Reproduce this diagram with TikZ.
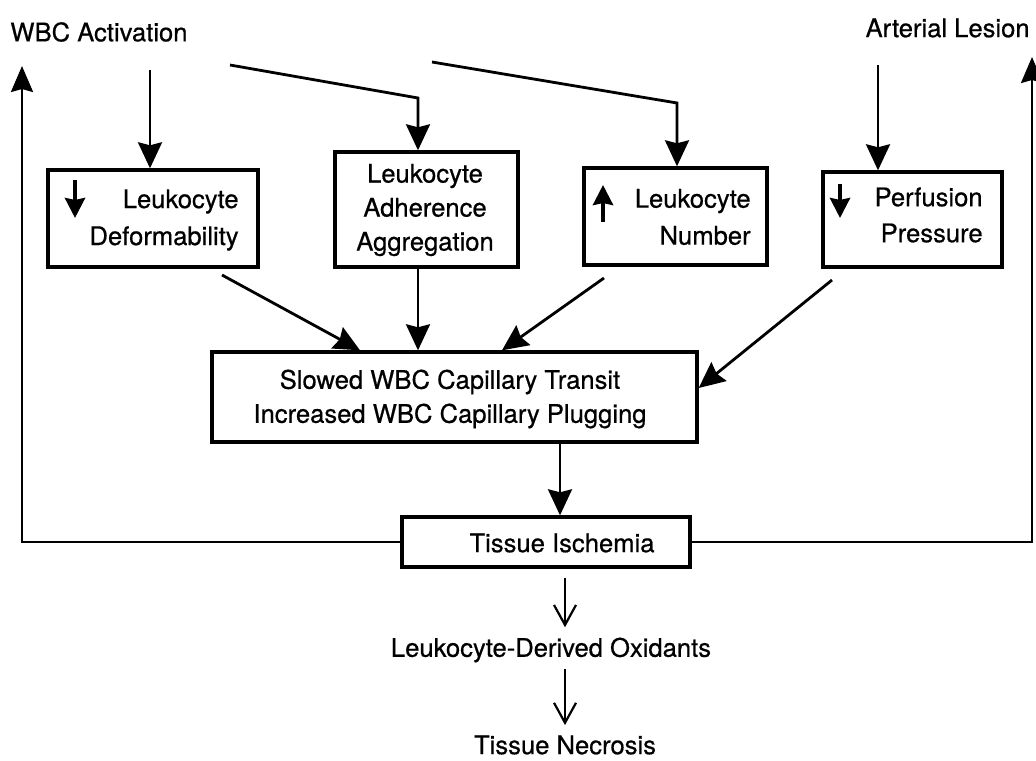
\documentclass[tikz,border=0pt]{standalone}
\usepackage{fontspec}
\setmainfont{TeX Gyre Heros}[FakeBold=0.6]
\usetikzlibrary{arrows.meta,calc}
\newlength{\du}
\setlength{\du}{0.5pt}
\tikzset{
  boxline/.style={draw, line width=1.7pt, inner sep=0pt},
  figtext/.style={inner sep=0pt, font=\fontsize{12.8}{17}\selectfont},
  flow/.style={line width=1.4pt, -{Stealth[length=13pt,width=12pt,inset=1.5pt]}},
  feedback/.style={line width=1.3pt, -{Stealth[length=13pt,width=11pt,inset=1.5pt]}},
  openflow/.style={line width=1.1pt, -{Straight Barb[length=10pt,width=11pt]}},
  glyph/.style={line width=2pt, -{Stealth[length=10pt,width=10pt,inset=1pt]}},
}

\begin{document}
\begin{tikzpicture}
\pgftransformxscale{1.000000}
\pgftransformyscale{-1.000000}
\useasboundingbox (0\du,0\du) rectangle (1036\du,760\du);
% boxes
\node[boxline, minimum width=210\du, minimum height=97\du] (deform) at (153\du,218.5\du) {};
\node[boxline, minimum width=183\du, minimum height=115\du] (adher) at (426.5\du,209.5\du) {};
\node[boxline, minimum width=183\du, minimum height=97\du] (number) at (675.5\du,216.5\du) {};
\node[boxline, minimum width=179\du, minimum height=95\du] (perf) at (912.5\du,219.5\du) {};
\node[boxline, minimum width=485\du, minimum height=90\du] (transit) at (454.5\du,397\du) {};
\node[boxline, minimum width=288\du, minimum height=50\du] (isch) at (546\du,542\du) {};
% texts
\node[figtext, anchor=west] (wbc) at (10\du,32\du) {WBC Activation};
\node[figtext, anchor=east] (lesion) at (1030\du,28\du) {Arterial Lesion};
\node[figtext, anchor=east, align=right] (deformtext) at (239\du,220\du) {Leukocyte\\[1.5pt]Deformability};
\node[figtext, align=center] (adhertext) at (425\du,210\du) {Leukocyte\\Adherence\\Aggregation};
\node[figtext, anchor=east, align=right] (numbertext) at (751\du,217\du) {Leukocyte\\[1.5pt]Number};
\node[figtext, anchor=east, align=right] (perftext) at (983\du,215\du) {Perfusion\\[1pt]Pressure};
\node[figtext, align=center] (transittext) at (450\du,399\du) {Slowed WBC Capillary Transit\\Increased WBC Capillary Plugging};
\node[figtext] (ischtext) at (562\du,543\du) {Tissue Ischemia};
\node[figtext] (oxid) at (551\du,650\du) {Leukocyte-Derived Oxidants};
\node[figtext] (necro) at (565\du,745\du) {Tissue Necrosis};
% free ends and bends
\coordinate (wbcfoot) at (150\du,70\du);
\coordinate (adherstart) at (230\du,65\du);
\coordinate (adherbend) at (418\du,98\du);
\coordinate (numberstart) at (432\du,62\du);
\coordinate (numberbend) at (677\du,103\du);
\coordinate (lesionfoot) at (878\du,65\du);
\coordinate (deformout) at (222\du,275\du);
\coordinate (deformin) at (360\du,352\du);
\coordinate (adherx) at (418\du,272\du);
\coordinate (numberout) at (604\du,278\du);
\coordinate (numberin) at (502\du,352\du);
\coordinate (perfout) at (832\du,280\du);
\coordinate (perfin) at (702\du,388\du);
\coordinate (transitx) at (560\du,442\du);
\coordinate (ischx) at (565\du,570\du);
\coordinate (lefttop) at (22\du,66\du);
\coordinate (righttop) at (1032\du,57\du);
% arrows into the boxes
\draw[flow] (wbcfoot) -- (wbcfoot |- deform.north);
\draw[flow] (adherstart) -- (adherbend) -- (adherbend |- adher.north);
\draw[flow] (numberstart) -- (numberbend) -- (numberbend |- number.north);
\draw[flow] (lesionfoot) -- (lesionfoot |- perf.north);
% arrows into the transit box
\draw[flow] (deformout) -- (deformin |- transit.north);
\draw[flow] (adherx |- adher.south) -- (adherx |- transit.north);
\draw[flow] (numberout) -- (numberin |- transit.north);
\draw[flow] (perfout) -- (transit.east |- perfin);
\draw[flow] (transitx |- transit.south) -- (transitx |- isch.north);
% feedback
\draw[feedback] (isch.west) -| (lefttop);
\draw[feedback] (isch.east) -| (righttop);
% lower chain
\draw[openflow, shorten <=9\du, shorten >=10\du] (ischx |- isch.south) -- (ischx |- oxid.north);
\draw[openflow, shorten <=6\du, shorten >=10\du] (ischx |- oxid.south) -- (ischx |- necro.north);
% small arrows in the boxes
\draw[glyph] (75\du,180\du) -- (75\du,218\du);
\draw[glyph] (603\du,222\du) -- (603\du,185\du);
\draw[glyph] (840\du,184\du) -- (840\du,218\du);
\end{tikzpicture}
\end{document}
